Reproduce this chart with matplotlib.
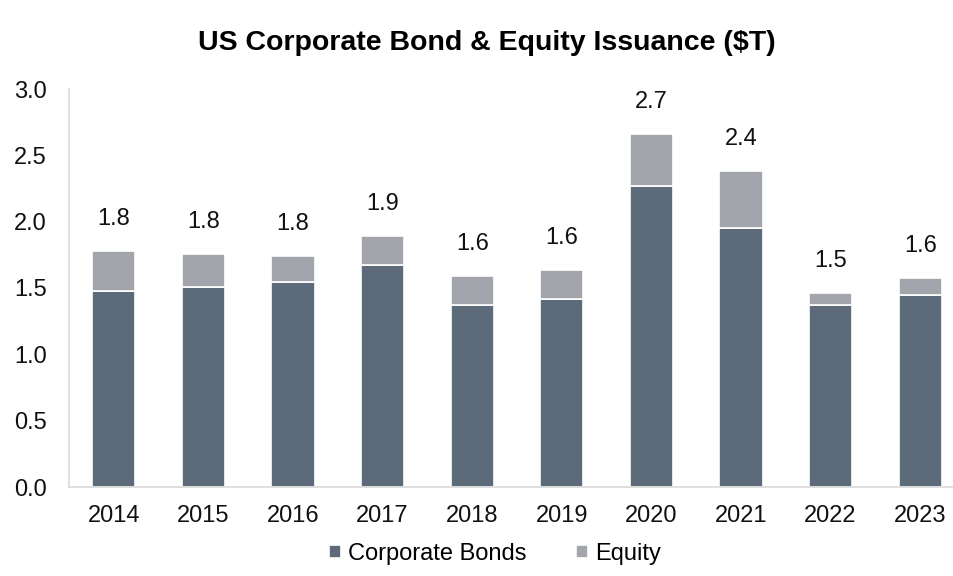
import matplotlib.pyplot as plt
import numpy as np

plt.rcParams['font.family'] = ['Liberation Sans', 'DejaVu Sans']

# Data ($T)
years = ['2014', '2015', '2016', '2017', '2018', '2019', '2020', '2021', '2022', '2023']
bonds = [1.48, 1.51, 1.545, 1.675, 1.375, 1.415, 2.27, 1.955, 1.37, 1.445]
totals = [1.78, 1.76, 1.74, 1.89, 1.59, 1.635, 2.66, 2.38, 1.46, 1.575]
total_labels = ['1.8', '1.8', '1.8', '1.9', '1.6', '1.6', '2.7', '2.4', '1.5', '1.6']
equity = [t - b for t, b in zip(totals, bonds)]

bond_color = '#5d6a7a'
equity_color = '#a3a5ad'

fig = plt.figure(figsize=(9.54, 5.76), dpi=100)
ax = fig.add_axes([69 / 954, 1 - 487 / 576, (965 - 69) / 954, (487 - 89) / 576])

x = np.arange(len(years))
ax.bar(x, bonds, width=0.48, color=bond_color, edgecolor='white', linewidth=1.2,
       label='Corporate Bonds')
ax.bar(x, equity, width=0.48, bottom=bonds, color=equity_color, edgecolor='white',
       linewidth=1.2, label='Equity')

for xi, t, lab in zip(x, totals, total_labels):
    ax.annotate(lab, (xi, t), xytext=(0, 23), textcoords='offset points',
                ha='center', va='center', fontsize=17, color='#111111')

ax.set_xlim(-0.5, 9.5)
ax.set_ylim(0, 3.0)
ax.set_yticks(np.arange(0, 3.01, 0.5))
ax.set_yticklabels([f'{v:.1f}' for v in np.arange(0, 3.01, 0.5)])
ax.set_xticks(x)
ax.set_xticklabels(years)
ax.tick_params(axis='y', length=0, pad=16, labelsize=17, labelcolor='#111111')
ax.tick_params(axis='x', length=0, pad=13, labelsize=17, labelcolor='#111111')

for side in ['top', 'right']:
    ax.spines[side].set_visible(False)
for side in ['left', 'bottom']:
    ax.spines[side].set_color('#d9d9d9')
    ax.spines[side].set_linewidth(1.2)

fig.text(487 / 954, 1 - 43 / 576, 'US Corporate Bond & Equity Issuance ($T)',
         ha='center', va='center', fontsize=20.5, fontweight='bold', color='#000000')

ax.legend(loc='center', bbox_to_anchor=(495 / 954, 1 - 554 / 576),
          bbox_transform=fig.transFigure, ncol=2, frameon=False, fontsize=17,
          handlelength=0.5, handleheight=0.5, handletextpad=0.3, columnspacing=2.1)

fig.savefig('out.png', dpi=100)
